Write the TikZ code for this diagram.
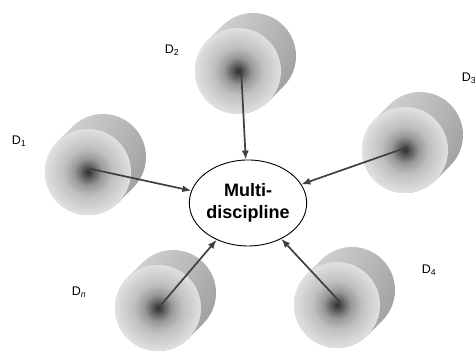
\documentclass[tikz,border=0pt]{standalone}
\usepackage{fontspec}
\setmainfont{Liberation Sans}
\usetikzlibrary{shapes.geometric, arrows.meta}
\pgfdeclareradialshading{diskglow}{\pgfpoint{0bp}{0bp}}{color(0bp)=(black!82); color(3bp)=(black!66); color(8bp)=(black!40); color(14bp)=(black!25); color(25bp)=(black!12); color(50bp)=(black!12)}
\tikzstyle{diskface}=[shading=diskglow]
\tikzstyle{diskside}=[left color=black!16, right color=black!38, shading angle=60]
\tikzstyle{hub}=[draw,ellipse,fill=white,line width=0.9pt,minimum width=102,minimum height=86,inner sep=0pt,align=center,font=\fontsize{18}{22}\selectfont\bfseries]
\tikzstyle{tag}=[font=\fontsize{12.5}{14}\selectfont]
\tikzstyle{link}=[-{Latex[length=9pt,width=7pt]},draw=black!75,line width=1.7pt]
\newcommand{\disk}[3]{%
  \path[diskside] (#2+15,#3+15) ++(135:43) arc[start angle=135,end angle=-45,radius=43]
    -- ++(-15,-15) arc[start angle=-45,end angle=-225,radius=43] -- cycle;
  \path[diskface] (#2,#3) circle (43);
  \coordinate (#1) at (#2+3,#3+3);
}

\begin{document}
\begin{tikzpicture}[x=1pt,y=1pt]
    \useasboundingbox (0,0) rectangle (475,352);
    \disk{d2}{238}{281}
    \disk{d1}{88}{180}
    \disk{d3}{405}{202}
    \disk{dn}{158}{44}
    \disk{d4}{337}{47}
    \node[hub] (mid) at (248,149) {Multi-\\discipline};
    \node[tag] (l1) at (19,211) {D\textsubscript{1}};
    \node[tag] (l2) at (172,302) {D\textsubscript{2}};
    \node[tag] (l3) at (469,274) {D\textsubscript{3}};
    \node[tag] (l4) at (429,82) {D\textsubscript{4}};
    \node[tag] (ln) at (79,60) {D\textsubscript{\textit{n}}};
    \draw[link] (d1) -- (mid);
    \draw[link] (d2) -- (mid);
    \draw[link] (d3) -- (mid);
    \draw[link] (dn) -- (mid);
    \draw[link] (d4) -- (mid);
\end{tikzpicture}
\end{document}
